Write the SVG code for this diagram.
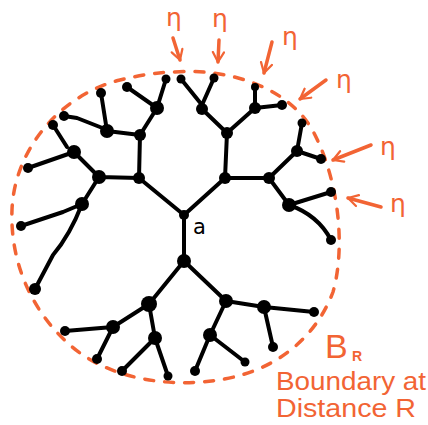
<svg xmlns="http://www.w3.org/2000/svg" width="428" height="425" viewBox="0 0 428 425">
<style>
.e{stroke:#000;stroke-width:4;fill:none;stroke-linecap:round;stroke-linejoin:round}
.n{fill:#000}
.o{stroke:#f26434;stroke-width:3.5;fill:none;stroke-linecap:round;stroke-linejoin:round}
.eta{fill:#f26434;font-family:"DejaVu Sans",sans-serif;font-size:25px}
.lab{fill:#f26434;font-family:"Liberation Sans",sans-serif}
</style>
<defs>
<marker id="ah" viewBox="0 0 10 10" refX="8" refY="5" markerWidth="4" markerHeight="4" orient="auto" markerUnits="strokeWidth">
<path d="M1 1 L8 5 L1 9" fill="none" stroke="#f26434" stroke-width="1.6" stroke-linecap="round" stroke-linejoin="round"/>
</marker>
</defs>
<rect width="428" height="425" fill="#fff"/>
<path id="boundary" class="o" stroke-width="4" stroke-dasharray="9 11" d="M175 72 C230 68 292 88 315 135 C340 185 345 250 333 292 C315 340 270 378 200 382 C150 386 100 372 70 345 C30 310 10 260 12 210 C14 150 60 95 120 80 C140 75 160 72 175 72 Z"/>
<g id="connectors">
<path class="e" d="M184 215 L139 178 L99 177 M139 178 L140 135 L107 131 M140 135 L157 108 L166 79 M157 108 L127 87 M107 131 L101 93 M105 129 L77 118 L64 116 M99 177 L74 152 L28 168 M67 147 L53 125 M99 177 L82 204 L63 212 L21 226 M82 204 Q70 235 53 255 Q44 272 35 289"/>
<path class="e" d="M184 215 L225 178 L269 178 M225 178 L227 133 L202 109 M202 105 L181 79 M202 105 L214 78 M227 133 L255 108 L255 87 M255 108 L282 105 M269 178 L297 151 L302 123 M297 151 L321 159 M269 178 L289 205 L331 192 M289 205 Q318 215 331 240"/>
<path class="e" d="M184 215 L184 261 L149 304 L113 327 L65 331 M113 327 L97 359 M149 304 L155 338 L122 371 M155 338 L168 376 M184 261 L226 301 L210 335 L195 371 M210 335 L245 362 M226 301 L264 307 L314 312 M264 307 L273 347"/>
</g>
<g id="nodes">
<g id="a"><circle class="n" cx="184" cy="215" r="5"/></g>
<g id="L1"><circle class="n" cx="139" cy="178" r="6"/></g>
<g id="L2"><circle class="n" cx="140" cy="135" r="6"/></g>
<g id="L3"><circle class="n" cx="157" cy="108" r="7"/></g>
<g id="L3a"><circle class="n" cx="166" cy="79" r="4.5"/></g>
<g id="L3b"><circle class="n" cx="127" cy="87" r="5"/></g>
<g id="L4"><circle class="n" cx="107" cy="131" r="7"/></g>
<g id="L4a"><circle class="n" cx="101" cy="93" r="5"/></g>
<g id="L4b"><circle class="n" cx="64" cy="116" r="5"/></g>
<g id="L5"><circle class="n" cx="99" cy="177" r="7"/></g>
<g id="L6"><circle class="n" cx="74" cy="152" r="7"/></g>
<g id="L6a"><circle class="n" cx="53" cy="125" r="5"/></g>
<g id="L6b"><circle class="n" cx="28" cy="168" r="5"/></g>
<g id="L7"><circle class="n" cx="82" cy="204" r="7"/></g>
<g id="L7a"><circle class="n" cx="21" cy="226" r="5"/></g>
<g id="L7b"><circle class="n" cx="35" cy="289" r="6"/></g>
<g id="R1"><circle class="n" cx="225" cy="178" r="6"/></g>
<g id="R2"><circle class="n" cx="227" cy="133" r="6"/></g>
<g id="R3"><circle class="n" cx="202" cy="109" r="6"/></g>
<g id="R3a"><circle class="n" cx="181" cy="79" r="4.5"/></g>
<g id="R3b"><circle class="n" cx="214" cy="78" r="4.5"/></g>
<g id="R4"><circle class="n" cx="255" cy="108" r="6"/></g>
<g id="R4a"><circle class="n" cx="255" cy="87" r="4"/></g>
<g id="R4b"><circle class="n" cx="282" cy="105" r="5"/></g>
<g id="R5"><circle class="n" cx="269" cy="178" r="6"/></g>
<g id="R6"><circle class="n" cx="297" cy="151" r="6"/></g>
<g id="R6a"><circle class="n" cx="302" cy="123" r="4.5"/></g>
<g id="R6b"><circle class="n" cx="321" cy="159" r="5"/></g>
<g id="R7"><circle class="n" cx="289" cy="205" r="7"/></g>
<g id="R7a"><circle class="n" cx="331" cy="192" r="5"/></g>
<g id="R7b"><circle class="n" cx="331" cy="240" r="5"/></g>
<g id="D1"><circle class="n" cx="184" cy="261" r="7"/></g>
<g id="D2"><circle class="n" cx="149" cy="304" r="8"/></g>
<g id="D3"><circle class="n" cx="113" cy="327" r="7"/></g>
<g id="D3a"><circle class="n" cx="65" cy="331" r="5"/></g>
<g id="D3b"><circle class="n" cx="97" cy="359" r="5"/></g>
<g id="D4"><circle class="n" cx="155" cy="338" r="7"/></g>
<g id="D4a"><circle class="n" cx="122" cy="371" r="5"/></g>
<g id="D4b"><circle class="n" cx="168" cy="376" r="4.5"/></g>
<g id="D5"><circle class="n" cx="226" cy="301" r="7"/></g>
<g id="D6"><circle class="n" cx="210" cy="335" r="7"/></g>
<g id="D6a"><circle class="n" cx="195" cy="371" r="5"/></g>
<g id="D6b"><circle class="n" cx="245" cy="362" r="4.5"/></g>
<g id="D7"><circle class="n" cx="264" cy="307" r="7"/></g>
<g id="D7a"><circle class="n" cx="314" cy="312" r="5"/></g>
<g id="D7b"><circle class="n" cx="273" cy="347" r="5"/></g>
</g>
<text x="193" y="234" font-family="DejaVu Sans, sans-serif" font-size="21" fill="#000">a</text>
<g id="arrows">
<path class="o" marker-end="url(#ah)" d="M173 38 L180 60"/>
<path class="o" marker-end="url(#ah)" d="M219 40 L218 62"/>
<path class="o" marker-end="url(#ah)" d="M272 42 L264 73"/>
<path class="o" marker-end="url(#ah)" d="M326 80 L300 99"/>
<path class="o" marker-end="url(#ah)" d="M371 145 L333 160"/>
<path class="o" marker-end="url(#ah)" d="M381 207 L348 198"/>
</g>
<g id="etas">
<text class="eta" x="166" y="26">η</text>
<text class="eta" x="212" y="27">η</text>
<text class="eta" x="282" y="45">η</text>
<text class="eta" x="336" y="88">η</text>
<text class="eta" x="380" y="155">η</text>
<text class="eta" x="390" y="212">η</text>
</g>
<g id="label">
<text class="lab" x="325" y="358" font-size="34">B</text>
<text class="lab" x="352" y="361" font-size="14" font-weight="bold">R</text>
<text class="lab" x="276" y="390" font-size="25" textLength="150" lengthAdjust="spacingAndGlyphs">Boundary at</text>
<text class="lab" x="276" y="417" font-size="25" textLength="140" lengthAdjust="spacingAndGlyphs">Distance R</text>
</g>
</svg>
